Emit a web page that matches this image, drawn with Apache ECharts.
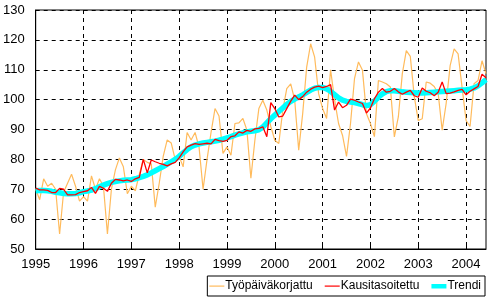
<!DOCTYPE html>
<html>
<head>
<meta charset="utf-8">
<script src="https://cdn.jsdelivr.net/npm/echarts@6/dist/echarts.min.js"></script>
<style>
  html, body { margin: 0; padding: 0; background: #fff; }
  #chart { width: 489px; height: 297px; }
</style>
</head>
<body>
<div id="chart"></div>
<script>
// year tick labels, monthly data Jan 1995 - Jun 2004
const years = ['1995', '1996', '1997', '1998', '1999', '2000', '2001', '2002', '2003', '2004']
const lastYearMonths = 6

const tyopaivakorjattu = [
  70.0, 66.5, 73.5, 71.0, 72.0, 70.0, 55.0, 69.0, 72.0, 75.0, 71.0, 66.0,
  67.5, 66.0, 74.5, 70.0, 73.5, 71.0, 55.0, 70.0, 76.5, 80.5, 77.5, 68.5,
  71.0, 69.5, 75.0, 80.0, 79.0, 78.5, 64.0, 72.0, 81.0, 86.5, 85.5, 80.0,
  81.0, 77.5, 89.0, 86.5, 89.0, 84.0, 70.0, 80.0, 89.0, 97.0, 94.5, 82.0,
  84.2, 81.4, 92.0, 92.2, 93.7, 89.8, 73.7, 86.4, 97.0, 99.8, 96.5, 91.0,
  86.4, 85.3, 96.4, 103.7, 105.3, 99.8, 83.1, 95.3, 110.9, 118.7, 114.2, 102.0,
  97.0, 93.7, 110.0, 100.0, 92.0, 88.0, 81.0, 92.0, 107.0, 112.6, 109.8, 95.3,
  92.0, 87.6, 106.4, 105.9, 105.3, 104.2, 87.5, 94.2, 108.7, 116.4, 114.5, 101.0,
  93.0, 93.6, 105.9, 105.5, 104.4, 102.0, 89.8, 98.7, 111.4, 117.0, 115.3, 104.0,
  93.0, 91.0, 105.3, 106.4, 113.0, 108.7
]

const kausitasoitettu = [
  70.4, 69.8, 69.8, 69.6, 68.9, 68.9, 70.3, 70.0, 68.1, 68.1, 68.2, 68.9,
  69.2, 69.5, 70.6, 68.6, 71.0, 70.3, 69.3, 72.0, 73.3, 73.1, 72.8, 73.1,
  72.6, 73.5, 74.0, 80.0, 75.5, 79.8, 79.2, 78.7, 78.3, 77.8, 78.5, 79.0,
  80.5, 82.5, 84.2, 84.8, 85.3, 85.0, 85.2, 85.4, 85.2, 86.7, 86.3, 86.0,
  86.4, 87.6, 87.9, 89.2, 88.8, 89.7, 89.4, 90.2, 90.4, 90.9, 87.6, 99.0,
  97.0, 94.2, 94.5, 97.0, 99.5, 101.5, 100.0, 101.0, 102.5, 103.5, 104.2, 104.5,
  104.0, 104.4, 105.0, 96.5, 99.2, 97.3, 98.1, 100.2, 99.8, 99.2, 98.7, 95.5,
  97.2, 100.3, 102.5, 103.7, 102.5, 102.8, 103.7, 102.6, 101.8, 102.5, 103.1, 101.3,
  100.8, 103.9, 102.8, 102.3, 101.3, 102.5, 105.9, 102.0, 102.2, 102.6, 103.1, 103.4,
  101.6, 102.8, 103.6, 104.4, 108.5, 107.3
]

const trendi = [
  69.5, 69.6, 69.6, 69.5, 69.3, 69.0, 68.8, 68.6, 68.5, 68.5, 68.6, 68.8,
  69.2, 69.4, 69.7, 70.2, 70.8, 71.4, 71.9, 72.3, 72.6, 72.8, 73.0, 73.1,
  73.2, 73.5, 73.9, 74.3, 74.8, 75.5, 76.2, 76.9, 77.6, 78.4, 79.2, 80.0,
  81.0, 82.2, 83.3, 84.2, 84.8, 85.2, 85.5, 85.7, 85.9, 86.1, 86.4, 86.8,
  87.2, 87.6, 88.1, 88.5, 88.9, 89.2, 89.4, 89.6, 89.9, 90.8, 92.2, 93.6,
  94.8, 96.0, 97.2, 98.4, 99.4, 100.2, 100.9, 101.6, 102.4, 103.2, 103.8, 104.1,
  104.1, 103.6, 102.8, 101.7, 100.6, 99.8, 99.4, 99.2, 99.0, 98.7, 98.3, 98.0,
  98.3, 99.5, 100.8, 101.9, 102.7, 103.0, 103.0, 102.8, 102.6, 102.5, 102.4, 102.3,
  102.2, 102.2, 102.3, 102.4, 102.5, 102.6, 102.7, 102.8, 102.9, 103.0, 103.1, 103.2,
  103.3, 103.5, 103.9, 104.6, 105.6, 106.7
]

const months = []
years.forEach((y, k) => {
  const n = k === years.length - 1 ? lastYearMonths : 12
  for (let m = 1; m <= n; m++) months.push(y + 'M' + String(m).padStart(2, '0'))
})

const font = 'Liberation Sans, Arial, sans-serif'
// legend icons: plain bars in a 15x12 box (corner moves keep the box size)
const thinIcon = 'path://M0,0M15,12M0,5.5h15v1.2h-15z'
const thickIcon = 'path://M0,0M15,12M0,4h15v4.5h-15z'
const gridDash = { color: '#000', type: [4, 4], width: 1 }

const chart = echarts.init(document.getElementById('chart'))

chart.setOption({
  animation: false,
  backgroundColor: '#fff',
  grid: {
    left: 33, top: 10, right: 3, bottom: 48,
    show: true, borderColor: '#000', borderWidth: 1
  },
  legend: {
    data: [
      { name: 'Työpäiväkorjattu', icon: thinIcon },
      { name: 'Kausitasoitettu', icon: thinIcon },
      { name: 'Trendi', icon: thickIcon }
    ],
    right: 4, bottom: 1,
    padding: [4, 4, 4, 2],
    borderColor: '#000', borderWidth: 1,
    itemWidth: 15, itemHeight: 12, itemGap: 12,
    textStyle: { fontFamily: font, fontSize: 12, color: '#000', padding: [0, 0, 0, -4] }
  },
  xAxis: {
    type: 'category',
    data: months,
    boundaryGap: false,
    axisLine: { lineStyle: { color: '#000', width: 1 } },
    axisTick: { interval: 11, inside: true, length: 5, lineStyle: { color: '#000' } },
    axisLabel: {
      interval: 11, margin: 9,
      fontFamily: font, fontSize: 13, color: '#000',
      formatter: v => v.slice(0, 4)
    },
    splitLine: { show: true, interval: 11, lineStyle: gridDash }
  },
  yAxis: {
    type: 'value',
    min: 50, max: 130, interval: 10,
    axisLine: { show: true, lineStyle: { color: '#000', width: 1 } },
    axisTick: { show: false },
    axisLabel: { fontFamily: font, fontSize: 13, color: '#000', margin: 11 },
    splitLine: { show: true, lineStyle: gridDash }
  },
  series: [
    {
      name: 'Työpäiväkorjattu', type: 'line', data: tyopaivakorjattu,
      symbol: 'none', z: 2,
      lineStyle: { color: '#ffbb5c', width: 1.2 }, itemStyle: { color: '#ffbb5c' }
    },
    {
      name: 'Kausitasoitettu', type: 'line', data: kausitasoitettu,
      symbol: 'none', z: 4,
      lineStyle: { color: '#ff0000', width: 1.3 }, itemStyle: { color: '#ff0000' }
    },
    {
      name: 'Trendi', type: 'line', data: trendi,
      symbol: 'none', z: 3,
      lineStyle: { color: '#00ffff', width: 5.5 }, itemStyle: { color: '#00ffff' }
    }
  ]
})
</script>
</body>
</html>
